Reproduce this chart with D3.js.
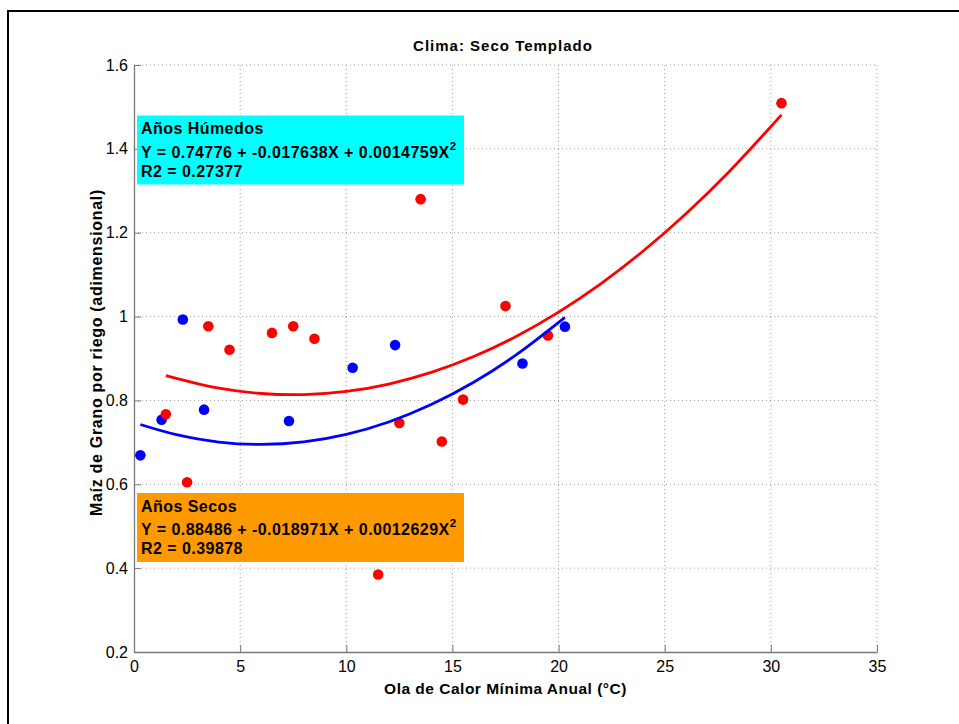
<!DOCTYPE html>
<html>
<head>
<meta charset="utf-8">
<script src="https://cdn.jsdelivr.net/npm/d3@7"></script>
<style>
  html, body { margin: 0; padding: 0; background: #fff; }
  svg { display: block; }
  text { font-family: "Liberation Sans", Arial, Helvetica, sans-serif; }
</style>
</head>
<body>
<svg id="chart" width="959" height="724"></svg>
<script>
// ---- data ----
const title = "Clima: Seco Templado";
const xLabel = "Ola de Calor Mínima Anual (°C)";
const yLabel = "Maíz de Grano por riego (adimensional)";
const xTicks = [0, 5, 10, 15, 20, 25, 30, 35];
const yTicks = [0.2, 0.4, 0.6, 0.8, 1.0, 1.2, 1.4, 1.6];

const humedosX = [0.3, 1.3, 2.3, 3.3, 7.3, 10.3, 12.3, 18.3, 20.3];
const humedosY = [0.669, 0.754, 0.993, 0.778, 0.751, 0.878, 0.932, 0.888, 0.976];

const secosX = [1.5, 2.5, 3.5, 4.5, 6.5, 7.5, 8.5, 11.5, 12.5, 13.5, 14.5, 15.5, 17.5, 19.5, 30.5];
const secosY = [0.767, 0.605, 0.977, 0.921, 0.961, 0.977, 0.947, 0.385, 0.746, 1.280, 0.702, 0.802, 1.025, 0.955, 1.509];

// fitted curves
const fitHumX = [0.3, 2, 4, 6, 8, 10, 12, 14, 16, 18, 20.3];
const fitHumY = [0.7426, 0.7184, 0.7008, 0.6951, 0.7011, 0.7190, 0.7486, 0.7901, 0.8434, 0.9085, 0.9979];
const fitSecX = [1.5, 4, 6, 8, 10, 12, 14, 16, 18, 20, 22, 24, 26, 28, 30.5];
const fitSecY = [0.8593, 0.8292, 0.8165, 0.8139, 0.8214, 0.8391, 0.8668, 0.9046, 0.9526, 1.0106, 1.0787, 1.1570, 1.2453, 1.3438, 1.4811];

const legendHum = ["Años Húmedos", "Y = 0.74776 + -0.017638X + 0.0014759X", "R2 = 0.27377"];
const legendSec = ["Años Secos", "Y = 0.88486 + -0.018971X + 0.0012629X", "R2 = 0.39878"];

// ---- layout ----
const svg = d3.select("#chart");
const pL = 134, pR = 877, pT = 65, pB = 652;
const x = d3.scaleLinear().domain([0, 35]).range([pL, pR]);
const y = d3.scaleLinear().domain([0.2, 1.6]).range([pB, pT]);

svg.append("rect").attr("width", 959).attr("height", 724).attr("fill", "#fff");
// outer frame (extends past the window)
svg.append("rect").attr("x", 8).attr("y", 11).attr("width", 1000).attr("height", 800)
  .attr("fill", "none").attr("stroke", "#000").attr("stroke-width", 2);

// grid
const grid = svg.append("g");
grid.selectAll(".gx").data(xTicks.slice(1)).enter().append("line")
  .attr("x1", d => x(d)).attr("x2", d => x(d)).attr("y1", pT).attr("y2", pB)
  .attr("stroke", "#9a9a9a").attr("stroke-width", 1).attr("stroke-dasharray", "1,3");
grid.selectAll(".gy").data(yTicks.slice(1)).enter().append("line")
  .attr("x1", pL).attr("x2", pR).attr("y1", d => y(d)).attr("y2", d => y(d))
  .attr("stroke", "#9a9a9a").attr("stroke-width", 1).attr("stroke-dasharray", "1,3");

// axes
const xAxis = d3.axisBottom(x).tickValues(xTicks).tickFormat(d3.format("d")).tickSizeInner(-7).tickSizeOuter(0).tickPadding(9);
const yAxis = d3.axisLeft(y).tickValues(yTicks).tickFormat(d => d === 1 ? "1" : d3.format(".1f")(d)).tickSizeInner(-7).tickSizeOuter(0).tickPadding(6);

const gx = svg.append("g").attr("transform", `translate(0,${pB})`).call(xAxis);
const gy = svg.append("g").attr("transform", `translate(${pL},0)`).call(yAxis);
[gx, gy].forEach(g => {
  g.select(".domain").attr("stroke", "#777").attr("stroke-width", 1.3);
  g.selectAll(".tick line").attr("stroke", "#777");
  g.selectAll(".tick text").attr("fill", "#000").style("font-size", "16px")
    .style("font-family", '"Liberation Sans", Arial, sans-serif');
});
gx.selectAll(".tick text").attr("dy", "0.7em");

// data points
svg.append("g").selectAll("circle").data(humedosX.map((d, i) => [d, humedosY[i]])).enter()
  .append("circle").attr("cx", d => x(d[0])).attr("cy", d => y(d[1])).attr("r", 5.3).attr("fill", "#0000ff");
svg.append("g").selectAll("circle").data(secosX.map((d, i) => [d, secosY[i]])).enter()
  .append("circle").attr("cx", d => x(d[0])).attr("cy", d => y(d[1])).attr("r", 5.3).attr("fill", "#ff0000");

// fit lines
const line = d3.line().x(d => x(d[0])).y(d => y(d[1])).curve(d3.curveCatmullRom);
svg.append("path").datum(fitHumX.map((d, i) => [d, fitHumY[i]])).attr("d", line)
  .attr("fill", "none").attr("stroke", "#0000ff").attr("stroke-width", 2.8);
svg.append("path").datum(fitSecX.map((d, i) => [d, fitSecY[i]])).attr("d", line)
  .attr("fill", "none").attr("stroke", "#ff0000").attr("stroke-width", 2.8);

// legend boxes
function legendBox(y0, fill, lines, baselines) {
  const g = svg.append("g");
  g.append("rect").attr("x", 137).attr("y", y0).attr("width", 327).attr("height", 69).attr("fill", fill);
  lines.forEach((t, i) => {
    const tx = g.append("text").attr("x", 141).attr("y", y0 + baselines[i])
      .attr("font-weight", "bold").attr("font-size", "16px").attr("letter-spacing", "0.45px").attr("fill", "#000");
    tx.append("tspan").text(t);
    if (i === 1) tx.append("tspan").attr("dy", -8).attr("font-size", "11.5px").attr("letter-spacing", "0").text("2");
  });
}
legendBox(115.5, "#00ffff", legendHum, [18, 42, 61.5]);
legendBox(493, "#ff9900", legendSec, [18.5, 42, 60.5]);

// title & labels
svg.append("text").attr("x", 503).attr("y", 51).attr("text-anchor", "middle")
  .attr("font-weight", "bold").attr("font-size", "15px").attr("letter-spacing", "1px").text(title);
svg.append("text").attr("x", 505.5).attr("y", 694).attr("text-anchor", "middle")
  .attr("font-weight", "bold").attr("font-size", "15.5px").attr("letter-spacing", "0.5px").text(xLabel);
svg.append("text").attr("transform", `translate(102,${(pT + pB) / 2 - 6}) rotate(-90)`)
  .attr("text-anchor", "middle").attr("font-weight", "bold").attr("font-size", "16px").attr("letter-spacing", "0.7px").text(yLabel);
</script>
</body>
</html>
